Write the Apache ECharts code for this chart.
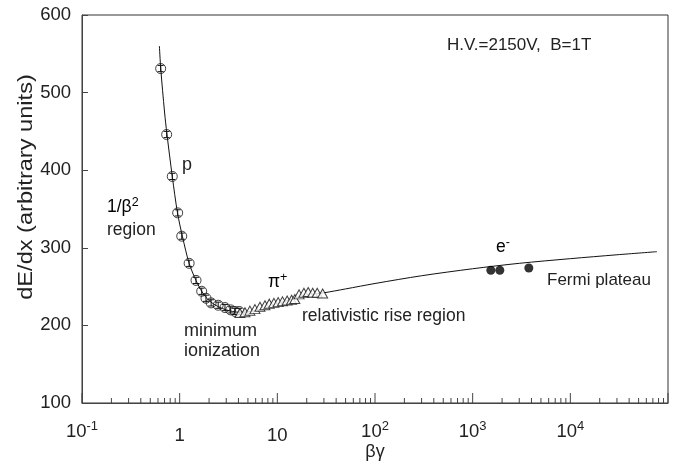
<!DOCTYPE html>
<html>
<head>
<meta charset="utf-8">
<script src="https://cdn.jsdelivr.net/npm/echarts@6/dist/echarts.min.js"></script>
<style>html,body{margin:0;padding:0;background:#fff}#c{width:678px;height:462px}</style>
</head>
<body>
<div id="c"></div>
<script>
// ---- data ----
const protonX = [0.639, 0.736, 0.840, 0.954, 1.05, 1.25, 1.47, 1.68, 1.86, 2.10, 2.48, 2.91, 3.33, 3.68, 4.07];
const protonY = [531, 446, 392, 345, 315, 280, 258, 244, 235, 229, 226, 223, 220, 218, 218];
const protonErr = [4, 4, 4, 4, 4, 4, 4, 4, 4, 4, 4, 4, 4, 4, 4];
const pionX = [4.14, 4.66, 5.24, 5.90, 6.64, 7.47, 8.27, 9.23, 10.2, 11.3, 12.6, 14.0, 15.1, 16.7, 18.7, 20.7, 23.0, 25.6, 29.1];
const pionY = [216, 217, 219, 221, 224, 226, 228, 229, 230, 231, 232, 233, 234, 240, 242, 243, 242, 242, 241];
const electronX = [1535, 1897, 3758];
const electronY = [271, 271, 274];
const curveX = [0.62, 0.64, 0.70, 0.74, 0.84, 0.95, 1.07, 1.25, 1.47, 1.7, 2.0, 2.5, 3.0, 4.0, 5.0, 7.0, 10, 15, 20, 30, 50, 100, 300, 1000, 3000, 10000, 30000, 77000];
const curveY = [560, 531, 475, 447, 392, 345, 314, 280, 258, 243, 232, 224, 220, 217, 217.5, 221, 228, 235, 239, 242, 247, 254, 264, 273, 280, 286, 291, 295];
const yTicks = [100, 200, 300, 400, 500, 600];
const xDecades = [0.1, 1, 10, 100, 1000, 10000];
const minorMult = [2, 3, 4, 5, 6, 7, 8, 9];

const FONT = '"Liberation Sans", Arial, Helvetica, sans-serif';
const TXT = '#222';

const zip = (a, b) => a.map((v, i) => [v, b[i]]);
const minorTicks = [];
xDecades.forEach(d => minorMult.forEach(m => minorTicks.push([d * m, 100])));
const majorTicks = xDecades.concat([100000]).map(d => [d, 100]);
const errData = protonX.map((x, i) => [x, protonY[i] - protonErr[i], protonY[i] + protonErr[i]]);

const chart = echarts.init(document.getElementById('c'), null, {renderer: 'canvas'});

function tickRender(len) {
  return function (params, api) {
    const p = api.coord([api.value(0), api.value(1)]);
    return {type: 'line', shape: {x1: p[0], y1: p[1], x2: p[0], y2: p[1] - len},
            style: {stroke: '#444', lineWidth: 1}};
  };
}

const tickRich = {
  b: {fontSize: 18.5, fontFamily: FONT, color: TXT},
  p: {fontSize: 18.5, fontFamily: FONT, color: TXT, padding: [6, 0, 0, 0]},
  s: {fontSize: 13, fontFamily: FONT, color: TXT, verticalAlign: 'bottom', padding: [0, 0, 10, 0]}
};
const annRich = {
  b: {fontSize: 17.5, fontFamily: FONT, color: TXT},
  s: {fontSize: 12.5, fontFamily: FONT, color: TXT, verticalAlign: 'bottom', padding: [0, 0, 9, 0]}
};

chart.setOption({
  animation: false,
  backgroundColor: '#fff',
  grid: {left: 82, right: 10, top: 15, bottom: 59, show: true, borderColor: '#333', borderWidth: 1, backgroundColor: 'transparent'},
  xAxis: {
    type: 'log', logBase: 10, min: 0.1, max: 100000, interval: 1,
    axisLine: {show: true, lineStyle: {color: '#444', width: 1}},
    axisTick: {show: false},
    splitLine: {show: false},
    axisLabel: {
      margin: 17, fontSize: 18.5, fontFamily: FONT, color: TXT,
      formatter: function (v) {
        const e = Math.round(Math.log10(v));
        if (e === 5) return '';
        if (e === 0) return '{p|1}';
        if (e === 1) return '{p|10}';
        return '{b|10}{s|' + e + '}';
      },
      rich: tickRich
    }
  },
  yAxis: {
    type: 'value', min: yTicks[0], max: yTicks[yTicks.length - 1], interval: 100,
    axisLine: {show: true, lineStyle: {color: '#444', width: 1}},
    axisTick: {show: true, inside: true, length: 6, lineStyle: {color: '#444'}},
    splitLine: {show: false},
    axisLabel: {margin: 11, fontSize: 18.5, fontFamily: FONT, color: TXT}
  },
  series: [
    {type: 'line', data: zip(curveX, curveY), showSymbol: false, smooth: 0.3,
     lineStyle: {color: '#111', width: 1}, z: 2, silent: true},
    {type: 'custom', data: minorTicks, renderItem: tickRender(5), z: 1, silent: true},
    {type: 'custom', data: majorTicks, renderItem: tickRender(10), z: 1, silent: true},
    {type: 'custom', data: errData, z: 4, silent: true,
     renderItem: function (params, api) {
       const lo = api.coord([api.value(0), api.value(1)]);
       const hi = api.coord([api.value(0), api.value(2)]);
       const w = 3;
       return {type: 'group', children: [
         {type: 'line', shape: {x1: lo[0], y1: lo[1], x2: hi[0], y2: hi[1]}, style: {stroke: '#111', lineWidth: 1}},
         {type: 'line', shape: {x1: lo[0] - w, y1: lo[1], x2: lo[0] + w, y2: lo[1]}, style: {stroke: '#111', lineWidth: 1}},
         {type: 'line', shape: {x1: hi[0] - w, y1: hi[1], x2: hi[0] + w, y2: hi[1]}, style: {stroke: '#111', lineWidth: 1}}
       ]};
     }},
    {type: 'scatter', data: zip(protonX, protonY), symbol: 'circle', symbolSize: 10, z: 5,
     itemStyle: {color: 'rgba(0,0,0,0)', borderColor: '#111', borderWidth: 1}},
    {type: 'scatter', data: zip(pionX, pionY), symbol: 'triangle', symbolSize: [10, 9], z: 5,
     itemStyle: {color: '#fff', borderColor: '#111', borderWidth: 1}},
    {type: 'scatter', data: zip(electronX, electronY), symbol: 'circle', symbolSize: 9, z: 5,
     itemStyle: {color: '#000'}}
  ],
  graphic: [
    {type: 'text', rotation: Math.PI / 2, x: 26, y: 187, scaleX: 1.18,
     style: {text: 'dE/dx (arbitrary units)', font: '20px ' + FONT, fill: TXT, textAlign: 'center', textVerticalAlign: 'middle'}},
    {type: 'text', x: 375, y: 452,
     style: {text: 'βγ', font: '18px ' + FONT, fill: TXT, textAlign: 'center', textVerticalAlign: 'middle'}},
    {type: 'text', x: 447, y: 45,
     style: {text: 'H.V.=2150V,  B=1T', font: '17px ' + FONT, fill: TXT, textAlign: 'left', textVerticalAlign: 'middle'}},
    {type: 'text', x: 182, y: 165,
     style: {text: 'p', font: '18px ' + FONT, fill: TXT, textAlign: 'left', textVerticalAlign: 'middle'}},
    {type: 'text', x: 107, y: 207,
     style: {text: '{b|1/β}{s|2}', rich: annRich, textAlign: 'left', textVerticalAlign: 'middle'}},
    {type: 'text', x: 107, y: 230,
     style: {text: 'region', font: '17.5px ' + FONT, fill: TXT, textAlign: 'left', textVerticalAlign: 'middle'}},
    {type: 'text', x: 268, y: 282,
     style: {text: '{b|π}{s|+}', rich: annRich, textAlign: 'left', textVerticalAlign: 'middle'}},
    {type: 'text', x: 184, y: 331,
     style: {text: 'minimum', font: '18px ' + FONT, fill: TXT, textAlign: 'left', textVerticalAlign: 'middle'}},
    {type: 'text', x: 184, y: 351,
     style: {text: 'ionization', font: '18px ' + FONT, fill: TXT, textAlign: 'left', textVerticalAlign: 'middle'}},
    {type: 'text', x: 302, y: 316,
     style: {text: 'relativistic rise region', font: '17.5px ' + FONT, fill: TXT, textAlign: 'left', textVerticalAlign: 'middle'}},
    {type: 'text', x: 496, y: 247,
     style: {text: '{b|e}{s|-}', rich: annRich, textAlign: 'left', textVerticalAlign: 'middle'}},
    {type: 'text', x: 547, y: 280,
     style: {text: 'Fermi plateau', font: '17px ' + FONT, fill: TXT, textAlign: 'left', textVerticalAlign: 'middle'}}
  ]
});
</script>
</body>
</html>
